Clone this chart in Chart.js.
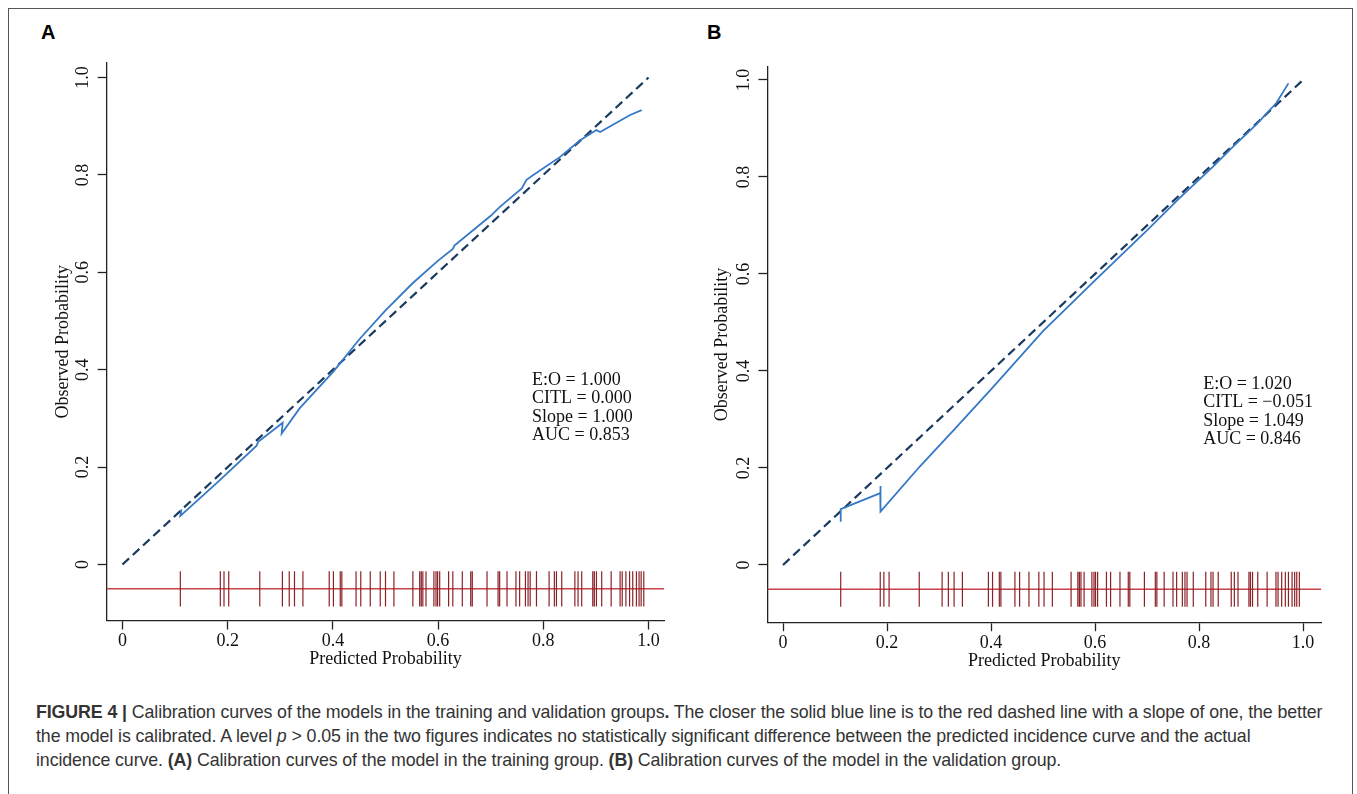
<!DOCTYPE html>
<html>
<head>
<meta charset="utf-8">
<script src="https://cdn.jsdelivr.net/npm/chart.js@4.4.1/dist/chart.umd.min.js"></script>
<style>
  body { margin: 0; background: #fff; width: 1357px; height: 794px; overflow: hidden; position: relative; font-family: "Liberation Sans", Arial, sans-serif; }
  #frame { position: absolute; left: 8px; top: 8px; width: 1343px; height: 820px; border: 1px solid #555; }
  canvas { position: absolute; top: 0; }
  #chartA { left: 0; }
  #chartB { left: 680px; }
  .tag { position: absolute; top: 21px; font: bold 20px "Liberation Sans", Arial, sans-serif; color: #000; }
  #caption { position: absolute; left: 36px; top: 700px; font-size: 17.8px; line-height: 24px; color: #333; white-space: nowrap; letter-spacing: -0.1px; }
</style>
</head>
<body>
<div id="frame"></div>
<div class="tag" style="left:41px">A</div>
<div class="tag" style="left:707px">B</div>
<canvas id="chartA" width="680" height="690"></canvas>
<canvas id="chartB" width="677" height="690"></canvas>
<div id="caption">
<b>FIGURE 4 |</b> Calibration curves of the models in the training and validation groups<b>.</b> The closer the solid blue line is to the red dashed line with a slope of one, the better<br>
the model is calibrated. A level <i>p</i> &gt; 0.05 in the two figures indicates no statistically significant difference between the predicted incidence curve and the actual<br>
incidence curve. <b>(A)</b> Calibration curves of the model in the training group. <b>(B)</b> Calibration curves of the model in the validation group.
</div>
<script>
// axis ticks (same for both panels)
const xTicks = [0, 0.2, 0.4, 0.6, 0.8, 1.0];
const yTicks = [0, 0.2, 0.4, 0.6, 0.8, 1.0];

// reference line, slope one
const refX = [0, 1];
const refY = [0, 1];

// A - training group, smoothed observed vs predicted
const curveAx = [0.112, 0.110, 0.180, 0.255, 0.258, 0.3045, 0.3026, 0.337, 0.400, 0.450, 0.500, 0.552, 0.600, 0.628, 0.631, 0.700, 0.718, 0.759, 0.768, 0.781, 0.832, 0.870, 0.901, 0.908, 0.965, 0.987];
const curveAy = [0.113, 0.100, 0.168, 0.244, 0.252, 0.291, 0.269, 0.321, 0.395, 0.462, 0.522, 0.578, 0.624, 0.648, 0.655, 0.716, 0.735, 0.772, 0.790, 0.800, 0.837, 0.871, 0.892, 0.888, 0.923, 0.933];

// B - validation group
const curveBx = [0.111, 0.111, 0.187, 0.187, 0.188, 0.263, 0.330, 0.400, 0.500, 0.600, 0.700, 0.763, 0.8275, 0.866, 0.911, 0.949, 0.972];
const curveBy = [0.089, 0.115, 0.148, 0.163, 0.110, 0.203, 0.280, 0.362, 0.482, 0.587, 0.690, 0.757, 0.822, 0.863, 0.909, 0.953, 0.993];

// spike plot of predicted probabilities
const rugA = [0.110, 0.186, 0.193, 0.202, 0.261, 0.304, 0.317, 0.327, 0.343, 0.393, 0.401, 0.414, 0.417, 0.444, 0.453, 0.471, 0.490, 0.500, 0.516, 0.552, 0.565, 0.568, 0.571, 0.577, 0.592, 0.596, 0.599, 0.603, 0.620, 0.628, 0.646, 0.662, 0.665, 0.693, 0.714, 0.717, 0.731, 0.748, 0.755, 0.766, 0.771, 0.775, 0.787, 0.811, 0.821, 0.825, 0.835, 0.860, 0.866, 0.873, 0.894, 0.897, 0.901, 0.911, 0.929, 0.946, 0.950, 0.957, 0.964, 0.970, 0.977, 0.982, 0.986, 0.991];
const rugB = [0.111, 0.187, 0.194, 0.204, 0.262, 0.306, 0.318, 0.329, 0.345, 0.395, 0.403, 0.416, 0.419, 0.446, 0.455, 0.473, 0.492, 0.502, 0.518, 0.554, 0.567, 0.570, 0.573, 0.579, 0.594, 0.598, 0.601, 0.605, 0.622, 0.630, 0.648, 0.664, 0.667, 0.695, 0.716, 0.719, 0.733, 0.750, 0.757, 0.768, 0.773, 0.777, 0.789, 0.813, 0.823, 0.827, 0.837, 0.862, 0.868, 0.875, 0.896, 0.899, 0.903, 0.913, 0.931, 0.948, 0.952, 0.959, 0.966, 0.972, 0.979, 0.984, 0.988, 0.993];
const rugLevel = -0.05;
const rugHalf = 0.036;

const statsA = ['E:O = 1.000', 'CITL = 0.000', 'Slope = 1.000', 'AUC = 0.853'];
const statsB = ['E:O = 1.020', 'CITL = \u22120.051', 'Slope = 1.049', 'AUC = 0.846'];

const serif = '"Liberation Serif", "Times New Roman", serif';
const fmt = v => (Math.abs(v) < 1e-9 ? '0' : v.toFixed(1));

// y tick labels are rotated like Stata draws them, plus the stats box
const sideText = {
  id: 'sideText',
  afterDraw(chart, args, opts) {
    const ctx = chart.ctx, sy = chart.scales.y, sx = chart.scales.x;
    ctx.save();
    ctx.fillStyle = '#111';
    ctx.font = '18px ' + serif;
    ctx.textAlign = 'center';
    ctx.textBaseline = 'middle';
    sy.ticks.forEach(t => {
      ctx.save();
      ctx.translate(sy.right - opts.gap, sy.getPixelForValue(t.value));
      ctx.rotate(-Math.PI / 2);
      ctx.fillText(fmt(t.value), 0, 0);
      ctx.restore();
    });
    ctx.font = '18px ' + serif;
    ctx.textAlign = 'left';
    const x0 = sx.getPixelForValue(opts.statsX);
    const y0 = sy.getPixelForValue(opts.statsY);
    opts.lines.forEach((s, i) => ctx.fillText(s, x0, y0 + i * 18.5));
    ctx.restore();
  }
};

function pts(xs, ys) { return xs.map((x, i) => ({ x: x, y: ys[i] })); }
function spikes(vals) {
  const out = [];
  vals.forEach(v => {
    out.push({ x: v, y: rugLevel - rugHalf }, { x: v, y: rugLevel + rugHalf }, { x: v, y: null });
  });
  return out;
}

function makeChart(id, p) {
  const axisCommon = {
    type: 'linear',
    grid: { drawOnChartArea: false, drawTicks: true, tickLength: 9, tickColor: '#222', tickWidth: 1.3 },
    border: { display: true, color: '#222', width: 1.3 }
  };
  return new Chart(document.getElementById(id), {
    type: 'scatter',
    data: {
      datasets: [
        { data: pts(p.cx, p.cy), borderColor: '#3579c6', borderWidth: 1.8 },
        { data: pts(refX, refY), borderColor: '#1b3a60', borderWidth: 2.2, borderDash: [9, 5] },
        { data: spikes(p.rug), borderColor: '#8b2227', borderWidth: 1.2, spanGaps: false },
        { data: [{ x: p.xMin, y: rugLevel }, { x: p.xMax, y: rugLevel }], borderColor: '#c8424a', borderWidth: 1.5 }
      ]
    },
    options: {
      responsive: false,
      animation: false,
      devicePixelRatio: 1,
      showLine: true,
      elements: { point: { radius: 0, hoverRadius: 0 }, line: { tension: 0, fill: false } },
      layout: { padding: { top: p.padTop, right: p.padRight, left: 0, bottom: 0 } },
      plugins: {
        legend: { display: false },
        tooltip: { enabled: false },
        sideText: { gap: 23, statsX: p.statsX, statsY: p.statsY, lines: p.stats }
      },
      scales: {
        x: Object.assign({}, axisCommon, {
          min: p.xMin, max: p.xMax,
          afterBuildTicks: s => { s.ticks = xTicks.map(v => ({ value: v })); },
          afterFit: s => { s.height = p.xH; },
          ticks: { callback: v => fmt(v), font: { family: serif, size: 18 }, color: '#111', padding: 1, maxRotation: 0, autoSkip: false },
          title: { display: true, text: 'Predicted Probability', font: { family: serif, size: 18 }, color: '#111', padding: { top: 0, bottom: p.xTitlePad } }
        }),
        y: Object.assign({}, axisCommon, {
          min: p.yMin, max: p.yMax,
          afterBuildTicks: s => { s.ticks = yTicks.map(v => ({ value: v })); },
          afterFit: s => { s.width = p.yW; },
          ticks: { display: false },
          title: { display: true, text: 'Observed Probability', font: { family: serif, size: 18 }, color: '#111', padding: { top: p.yTitlePad, bottom: 0 } }
        })
      }
    },
    plugins: [sideText]
  });
}

makeChart('chartA', {
  cx: curveAx, cy: curveAy, rug: rugA, stats: statsA, statsX: 0.7785, statsY: 0.379,
  xMin: -0.03, xMax: 1.03, yMin: -0.115, yMax: 1.03,
  yW: 106.7, xH: 69.5, padTop: 62.9, padRight: 15.7, xTitlePad: 20.2, yTitlePad: 52.2
});

makeChart('chartB', {
  cx: curveBx, cy: curveBy, rug: rugB, stats: statsB, statsX: 0.808, statsY: 0.373,
  xMin: -0.03, xMax: 1.035, yMin: -0.118, yMax: 1.027,
  yW: 87.4, xH: 67.8, padTop: 66.9, padRight: 35.8, xTitlePad: 18.2, yTitlePad: 31.2
});
</script>
</body>
</html>
